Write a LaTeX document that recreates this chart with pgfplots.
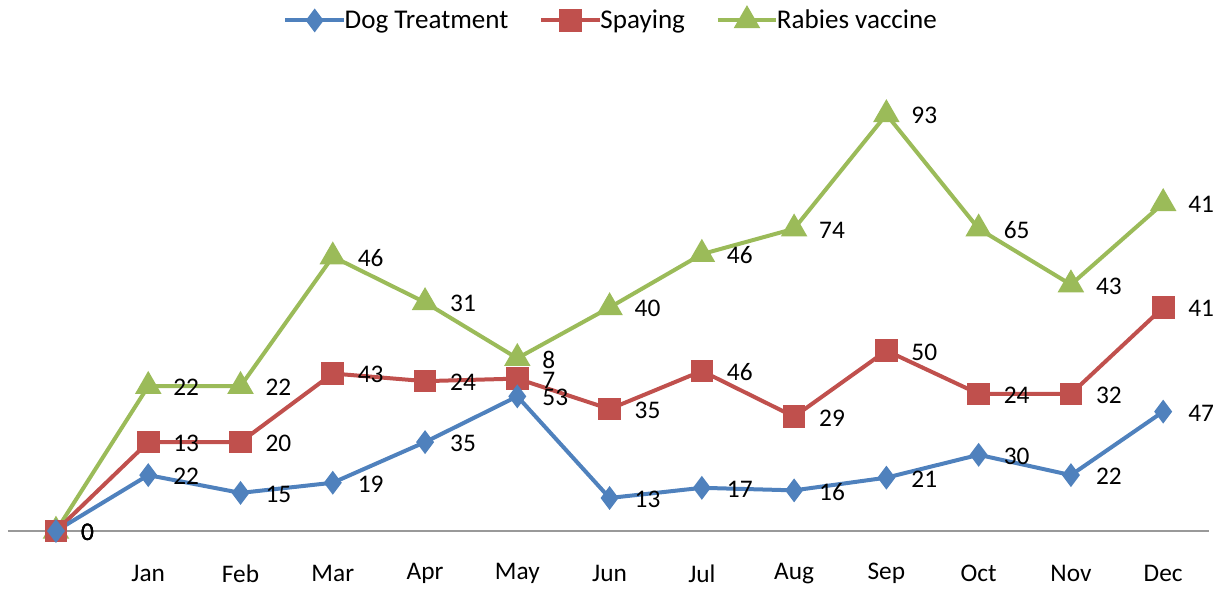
\documentclass[border=0pt]{standalone}
\usepackage{pgfplots}
\pgfplotsset{compat=1.18}
\usepackage{pgfplotstable}
\usepackage{fontspec}
\setmainfont{Carlito}
\definecolor{cblue}{HTML}{4F81BD}
\definecolor{cred}{HTML}{C0504D}
\definecolor{cgreen}{HTML}{9BBB59}
\pgfplotstableread{
x dog spay rab
0 0 0 0
1 22 13 22
2 15 20 22
3 19 43 46
4 35 24 31
5 53 7 8
6 13 35 40
7 17 46 46
8 16 29 74
9 21 50 93
10 30 24 65
11 22 32 43
12 47 41 41
}\datatable
\newcommand{\labfont}{\fontsize{19pt}{22pt}\selectfont}
\newcommand{\legfont}{\fontsize{20.3pt}{23pt}\selectfont}
\begin{document}
\begin{tikzpicture}
\begin{axis}[
  x=69.2pt, y=1.905pt,
  xmin=-0.52, xmax=12.5, ymin=0, ymax=170,
  clip=false,
  stack plots=y,
  axis x line=bottom, axis y line=none,
  axis line style={draw=gray!80, line width=1.2pt, -},
  xtick={1,...,12},
  xticklabels={Jan,Feb,Mar,Apr,May,Jun,Jul,Aug,Sep,Oct,Nov,Dec},
  major tick length=0pt,
  xticklabel style={font=\labfont, anchor=center, yshift=-32pt},
  /pgf/number format/assume math mode=true,
  point meta=explicit,
  nodes near coords,
  nodes near coords style={font=\labfont, anchor=west, xshift=14pt, yshift=-1pt, text=black},
  legend columns=3,
  legend style={draw=none, fill=none, font=\legfont, at={(axis cs:6.02,201)}, anchor=center,
    /tikz/every odd column/.append style={column sep=-3pt},
    /tikz/every even column/.append style={column sep=21pt}},
  legend image code/.code={\draw[#1, mark repeat=2, mark phase=2] plot coordinates {(0pt,0pt) (22pt,0pt) (44pt,0pt)};},
]
\addplot[cblue, line width=3pt, mark=diamond*, mark size=6.5pt, mark options={solid}] table[x=x, y=dog, meta=dog] {\datatable};
\addlegendentry{Dog Treatment}
\addplot[cred, line width=3pt, mark=square*, mark size=7pt] table[x=x, y=spay, meta=spay] {\datatable};
\addlegendentry{Spaying}
\addplot[cgreen, line width=3pt, mark=triangle*, mark size=8.5pt] table[x=x, y=rab, meta=rab] {\datatable};
\addlegendentry{Rabies vaccine}
\coordinate (bl) at (axis cs:-0.52,0);
\end{axis}
\pgfresetboundingbox
\path[use as bounding box] (bl) ++(-6pt,-44.25pt) rectangle ++(918.75pt,442.5pt);
\end{tikzpicture}
\end{document}
